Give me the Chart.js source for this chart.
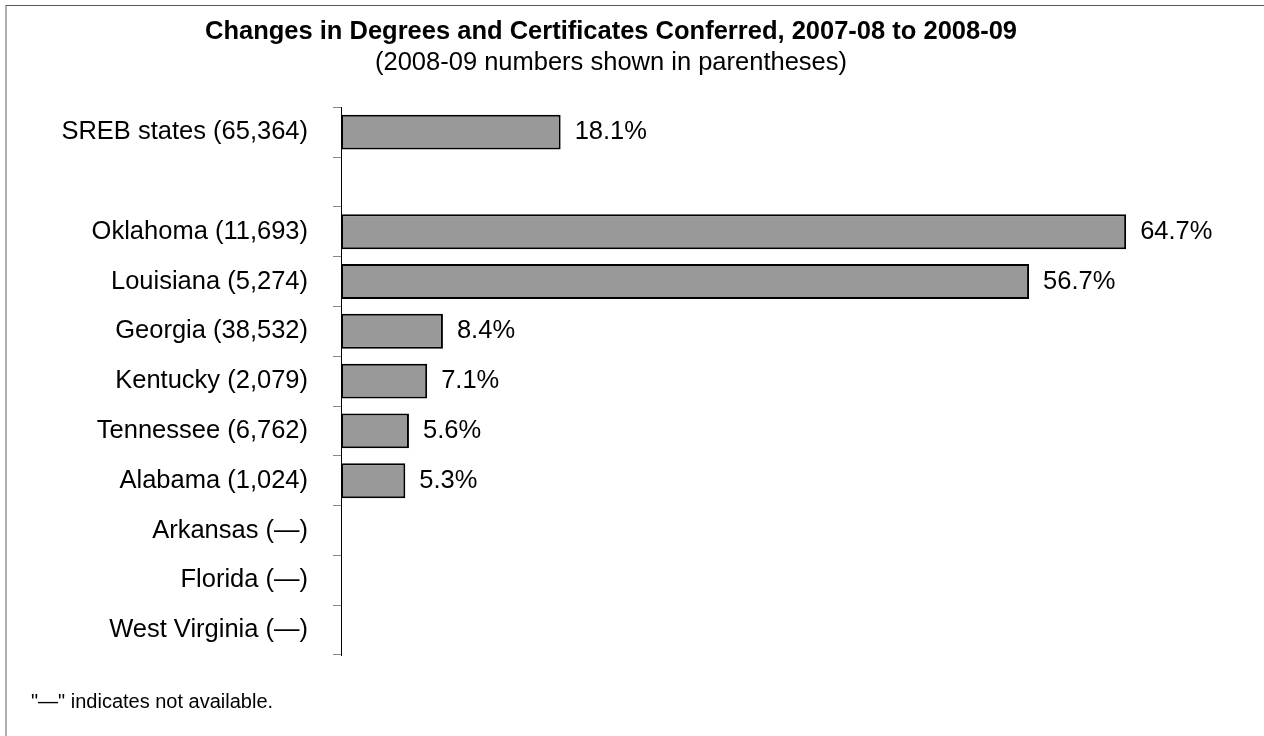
<!DOCTYPE html>
<html>
<head>
<meta charset="utf-8">
<script src="https://cdn.jsdelivr.net/npm/chart.js@4/dist/chart.umd.min.js"></script>
<style>
  html, body { margin: 0; padding: 0; background: #fff; }
  #wrap { position: relative; width: 1264px; height: 736px; overflow: hidden; }
  #frame { position: absolute; left: 5px; top: 5px; right: -10px; bottom: -10px;
           border-top: 1px solid #555; border-left: 2px solid #b0b0b0; pointer-events: none; }
  canvas { position: absolute; left: 0; top: 0; }
</style>
</head>
<body>
<div id="wrap">
  <canvas id="chart" width="1264" height="736"></canvas>
  <div id="frame"></div>
</div>
<script>
// Chart data
const states = ['SREB states (65,364)', '', 'Oklahoma (11,693)', 'Louisiana (5,274)', 'Georgia (38,532)',
  'Kentucky (2,079)', 'Tennessee (6,762)', 'Alabama (1,024)', 'Arkansas (\u2014)', 'Florida (\u2014)', 'West Virginia (\u2014)'];
const pctChange = [18.1, null, 64.7, 56.7, 8.4, 7.1, 5.6, 5.3, null, null, null];

const chartTitle = 'Changes in Degrees and Certificates Conferred, 2007-08 to 2008-09';
const chartSubtitle = '(2008-09 numbers shown in parentheses)';
const footNote = '"\u2014" indicates not available.';

const FONT = '"Liberation Sans", Arial, sans-serif';

// value labels at end of bars + footnote
const labelPlugin = {
  id: 'labels',
  afterDatasetsDraw(chart) {
    const ctx = chart.ctx;
    const meta = chart.getDatasetMeta(0);
    ctx.save();
    ctx.font = '25.5px ' + FONT;
    ctx.fillStyle = '#000';
    ctx.textAlign = 'left';
    ctx.textBaseline = 'middle';
    meta.data.forEach((bar, i) => {
      const v = pctChange[i];
      if (v === null) return;
      ctx.fillText(v.toFixed(1) + '%', bar.x + 14, bar.y);
    });
    ctx.font = '20px ' + FONT;
    ctx.textBaseline = 'alphabetic';
    ctx.fillText(footNote, 31, 708);
    ctx.restore();
  }
};

new Chart(document.getElementById('chart'), {
  type: 'bar',
  data: {
    labels: states,
    datasets: [{
      data: pctChange,
      backgroundColor: '#999999',
      borderColor: '#000',
      borderWidth: 2,
      borderSkipped: false,
      barPercentage: 0.7,
      categoryPercentage: 1.0
    }]
  },
  options: {
    indexAxis: 'y',
    responsive: false,
    animation: false,
    layout: { padding: { top: 0, right: 42, bottom: 81, left: 0 } },
    plugins: {
      legend: { display: false },
      tooltip: { enabled: false },
      title: {
        display: true,
        text: chartTitle,
        color: '#000',
        font: { family: FONT, size: 25.5, weight: 'bold', lineHeight: 1.2 },
        padding: { top: 17, bottom: 0 }
      },
      subtitle: {
        display: true,
        text: chartSubtitle,
        color: '#000',
        font: { family: FONT, size: 25.5, lineHeight: 1.2 },
        padding: { top: 0, bottom: 29 }
      }
    },
    scales: {
      x: { display: false, min: 0, max: 72.6 },
      y: {
        afterFit(scale) { scale.width = 341; },
        grid: { drawOnChartArea: false, drawTicks: true, tickLength: 8, color: '#888', offset: true },
        border: { display: true, color: '#000', width: 1 },
        ticks: { color: '#000', padding: 25, font: { family: FONT, size: 25.5 } }
      }
    }
  },
  plugins: [labelPlugin]
});
</script>
</body>
</html>
